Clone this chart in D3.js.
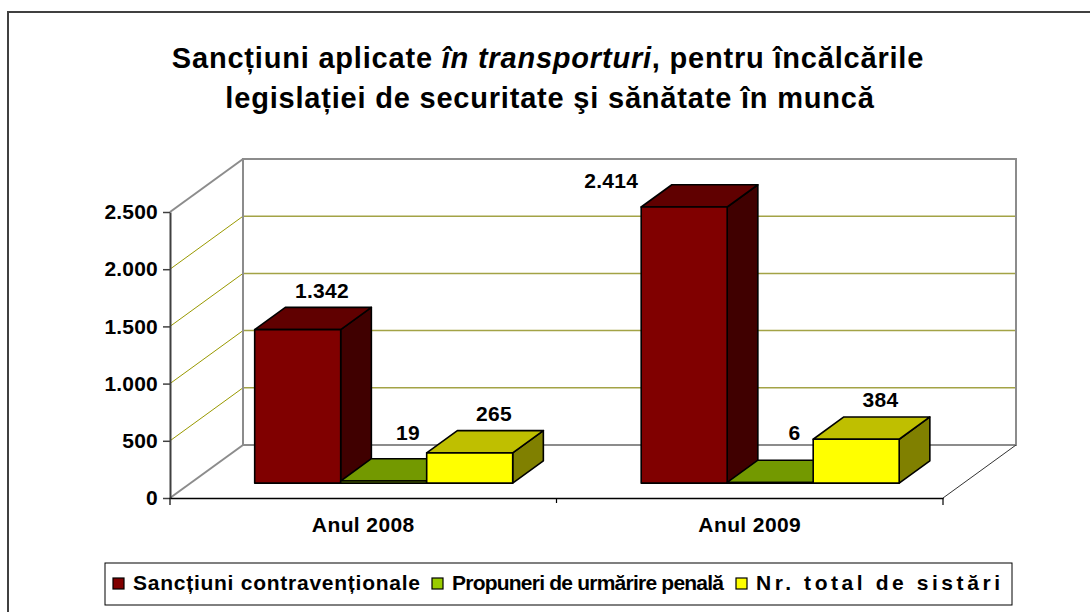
<!DOCTYPE html>
<html lang="ro">
<head>
<meta charset="utf-8">
<title>Sancțiuni aplicate în transporturi</title>
<script src="https://d3js.org/d3.v7.min.js"></script>
<style>
  body { margin: 0; background: #fff; }
  text { font-family: "Liberation Sans", Arial, sans-serif; font-weight: bold; fill: #000; }
</style>
</head>
<body>
<div id="chart"></div>
<script>
// data
var years = ["Anul 2008", "Anul 2009"];
var seriesNames = ["Sancțiuni contravenționale", "Propuneri de urmărire penală", "Nr. total de sistări"];
var sanctiuni = [1342, 2414];
var propuneri = [19, 6];
var sistari = [265, 384];
var yTicks = [0, 500, 1000, 1500, 2000, 2500];
var seriesColors = ["#800000", "#99cc00", "#ffff00"];

var values = [sanctiuni, propuneri, sistari];
var ro = d3.formatLocale({decimal: ",", thousands: ".", grouping: [3], currency: ["", " lei"]});
var fmt = ro.format(",");

var w = 1090, h = 612;
var depthX = 73, depthY = -53;   // full depth of the 3d box
var zFront = 0.28, zBack = 0.70; // depth taken by the bars
var barW = 86;
var legendTextW = [287, 272, 244]; // excel spreads the legend entries unevenly

var svg = d3.select("#chart").append("svg").attr("width", w).attr("height", h);

// outer frame of the chart area
svg.append("rect").attr("x", 8).attr("y", 12).attr("width", 1100).attr("height", 700)
  .attr("fill", "none").attr("stroke", "#404040").attr("stroke-width", 2);

var x0 = d3.scaleBand().domain(years).range([170, 943]);
var x1 = d3.scaleBand().domain(seriesNames).range([0, barW * 3]);
var y = d3.scaleLinear().domain([0, 2500]).range([498, 212]);
var left = x0.range()[0], right = x0.range()[1];

function P(x, v, z) { return [x + z * depthX, y(v) + z * depthY]; }
function shade(c, k) { var r = d3.rgb(c); return d3.rgb(r.r * k, r.g * k, r.b * k).formatHex(); }

// walls and gridlines
var walls = svg.append("g");
var grid = yTicks.filter(function(t) { return t > 0 && t < 2500; });
walls.selectAll(".hgrid").data(grid).enter().append("line")
  .attr("x1", function(d) { return P(left, d, 1)[0]; })
  .attr("y1", function(d) { return P(left, d, 1)[1]; })
  .attr("x2", function(d) { return P(right, d, 1)[0]; })
  .attr("y2", function(d) { return P(right, d, 1)[1]; })
  .attr("stroke", "#a3a346").attr("stroke-width", 1.5);
walls.selectAll(".dgrid").data(grid).enter().append("line")
  .attr("x1", function(d) { return P(left, d, 0)[0]; })
  .attr("y1", function(d) { return P(left, d, 0)[1]; })
  .attr("x2", function(d) { return P(left, d, 1)[0]; })
  .attr("y2", function(d) { return P(left, d, 1)[1]; })
  .attr("stroke", "#999900").attr("stroke-width", 1);
var a = P(left, 2500, 1), b = P(right, 0, 1);
walls.append("path")
  .attr("d", "M" + P(left, 0, 1) + "L" + a + "L" + [b[0], a[1]] + "L" + b + "Z")
  .attr("fill", "none").attr("stroke", "#8c8c8c").attr("stroke-width", 2);
walls.append("path").attr("d", "M" + P(left, 2500, 0) + "L" + P(left, 2500, 1))
  .attr("stroke", "#8c8c8c").attr("stroke-width", 2);
walls.append("path").attr("d", "M" + P(left, 0, 0) + "L" + P(left, 0, 1))
  .attr("stroke", "#8c8c8c").attr("stroke-width", 2);
walls.append("path").attr("d", "M" + P(right, 0, 0) + "L" + P(right, 0, 1))
  .attr("stroke", "#333").attr("stroke-width", 1);

// y axis
var yAxis = d3.axisLeft(y).tickValues(yTicks).tickSize(7).tickSizeOuter(0).tickPadding(5).tickFormat(fmt);
var gy = svg.append("g").attr("transform", "translate(" + left + ",0)").call(yAxis);
gy.select(".domain").attr("stroke", "#404040").attr("stroke-width", 2);
gy.selectAll(".tick line").attr("stroke", "#404040").attr("stroke-width", 1.5);
gy.selectAll("text").style("font-size", "21px").style("letter-spacing", "0.2px")
  .style("font-family", "'Liberation Sans', Arial, sans-serif").style("font-weight", "bold");

// x axis
var xAxis = d3.axisBottom(x0).tickSize(0).tickPadding(19);
var gx = svg.append("g").attr("transform", "translate(0," + y(0) + ")").call(xAxis);
gx.select(".domain").attr("stroke", "#000").attr("stroke-width", 1.5);
gx.selectAll("text").style("font-size", "21px").style("letter-spacing", "0.4px")
  .style("font-family", "'Liberation Sans', Arial, sans-serif").style("font-weight", "bold");
var bounds = years.map(function(d) { return x0(d); }).concat([right]);
gx.selectAll(".bound").data(bounds).enter().append("line")
  .attr("x1", function(d) { return d; }).attr("x2", function(d) { return d; })
  .attr("y1", 0).attr("y2", function(d, i) { return i === 0 || i === bounds.length - 1 ? 7 : 5; })
  .attr("stroke", "#000").attr("stroke-width", 1.2);

// bars
var rows = [];
years.forEach(function(yr, i) {
  seriesNames.forEach(function(s, j) {
    rows.push({year: yr, series: s, j: j, value: values[j][i]});
  });
});
function xl(d) { return x0(d.year) + (x0.bandwidth() - barW * 3) / 2 + x1(d.series); }

var bars = svg.append("g").selectAll("g").data(rows).enter().append("g")
  .attr("stroke", "#000").attr("stroke-width", 1.6).attr("stroke-linejoin", "round");
bars.append("path")
  .attr("d", function(d) { var l = xl(d), r = l + barW;
    return "M" + P(r, 0, zFront) + "L" + P(r, 0, zBack) + "L" + P(r, d.value, zBack) + "L" + P(r, d.value, zFront) + "Z"; })
  .attr("fill", function(d) { return shade(seriesColors[d.j], 0.5); });
bars.append("path")
  .attr("d", function(d) { var l = xl(d), r = l + barW;
    return "M" + P(l, d.value, zFront) + "L" + P(r, d.value, zFront) + "L" + P(r, d.value, zBack) + "L" + P(l, d.value, zBack) + "Z"; })
  .attr("fill", function(d) { return shade(seriesColors[d.j], 0.75); });
bars.append("path")
  .attr("d", function(d) { var l = xl(d), r = l + barW;
    return "M" + P(l, 0, zFront) + "L" + P(r, 0, zFront) + "L" + P(r, d.value, zFront) + "L" + P(l, d.value, zFront) + "Z"; })
  .attr("fill", function(d) { return seriesColors[d.j]; });

// value labels
var wallTop = P(left, 2500, 1)[1];
svg.append("g").selectAll("text").data(rows).enter().append("text")
  .attr("text-anchor", "middle").attr("dy", "0.35em")
  .style("font-size", "21px").style("letter-spacing", "0.3px")
  .attr("x", function(d) {
    var top = P(xl(d), d.value, zBack)[1];
    if (top - 17 < wallTop + 30) return P(xl(d), d.value, zFront)[0] - 30;
    return P(xl(d) + barW / 2, d.value, (zFront + zBack) / 2)[0] + 9;
  })
  .attr("y", function(d) {
    var top = P(xl(d), d.value, zBack)[1];
    if (top - 17 < wallTop + 30) return top - 4;
    return Math.min(top - 17, P(xl(d), 0, zBack)[1] - 28);
  })
  .text(function(d) { return fmt(d.value); });

// title
var title = svg.append("g").attr("text-anchor", "middle").style("font-size", "29px").style("letter-spacing", "0.8px");
var t1 = title.append("text").attr("x", 548).attr("y", 68);
t1.append("tspan").text("Sancțiuni aplicate ");
t1.append("tspan").style("font-style", "italic").text("în transporturi");
t1.append("tspan").text(", pentru încălcările");
title.append("text").attr("x", 550).attr("y", 108).text("legislației de securitate şi sănătate în muncă");

// legend
var legend = svg.append("g");
legend.append("rect").attr("x", 105).attr("y", 563).attr("width", 907).attr("height", 42)
  .attr("fill", "#fff").attr("stroke", "#000").attr("stroke-width", 1);
var lx = 113;
seriesNames.forEach(function(s, j) {
  legend.append("rect").attr("x", lx).attr("y", 578).attr("width", 11).attr("height", 11)
    .attr("fill", seriesColors[j]).attr("stroke", "#000").attr("stroke-width", 1.2);
  legend.append("text").attr("x", lx + 20).attr("y", 590)
    .attr("textLength", legendTextW[j]).attr("lengthAdjust", "spacing")
    .style("font-size", "21px").text(s);
  lx += 20 + legendTextW[j] + 12;
});
</script>
</body>
</html>
